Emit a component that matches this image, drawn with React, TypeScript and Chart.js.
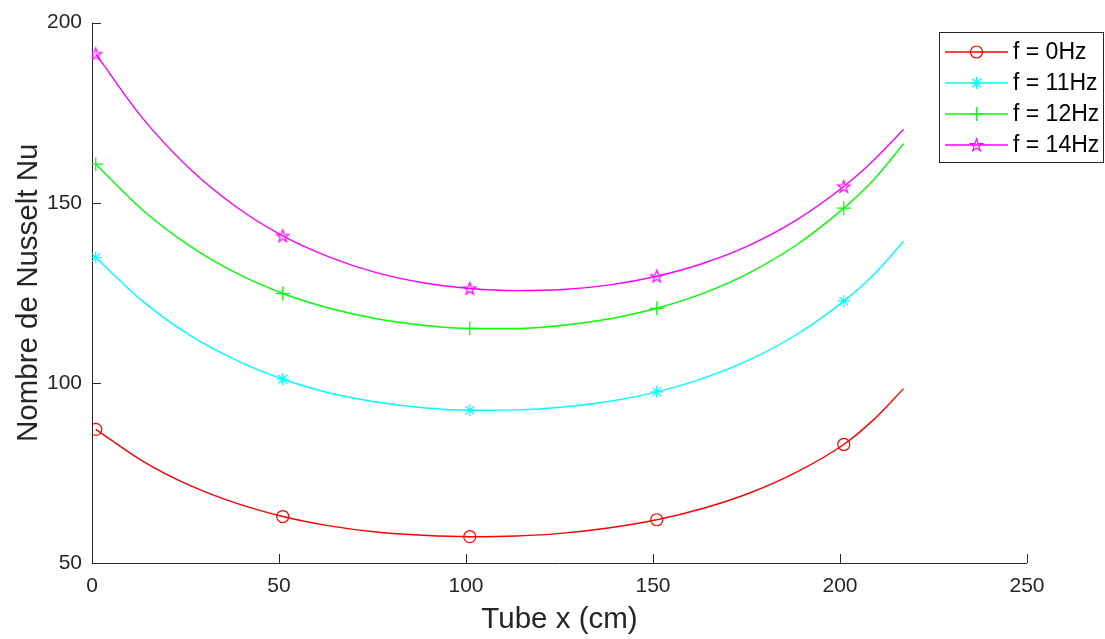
import { useEffect, useRef } from "react";
import { Chart, registerables } from "chart.js";

Chart.register(...registerables);

const curveX = [1, 13.5, 26, 38.5, 51, 63.5, 76, 88.5, 101, 113.5, 126, 138.5, 151, 163.5, 176, 188.5, 201, 209, 217];
// positions where markers are drawn (measurement points)
const markerX = [1, 51, 101, 151, 201];

// Nusselt number along the fitted curves
const nu0Hz = [87.1, 78.3, 71.6, 66.6, 62.9, 60.3, 58.6, 57.7, 57.3, 57.5, 58.3, 59.8, 62.0, 65.2, 69.5, 75.3, 82.9, 89.8, 98.4];
const nu11Hz = [134.8, 122.7, 113.3, 106.3, 101.0, 97.2, 94.7, 93.1, 92.4, 92.5, 93.3, 94.9, 97.5, 101.3, 106.5, 113.5, 122.7, 130.0, 139.3];
const nu12Hz = [160.7, 148.0, 138.1, 130.5, 124.8, 120.7, 117.8, 116.0, 115.1, 115.1, 116.0, 117.8, 120.7, 124.9, 130.7, 138.4, 148.5, 156.4, 166.4];
const nu14Hz = [191.3, 173.5, 159.6, 148.9, 140.8, 134.9, 130.6, 127.8, 126.2, 125.6, 125.9, 127.2, 129.6, 133.2, 138.3, 145.3, 154.5, 161.8, 170.4];

const seriesLabels = ["f = 0Hz", "f = 11Hz", "f = 12Hz", "f = 14Hz"];
const seriesColors = ["#FF0000", "#00FFFF", "#00FF00", "#FF00FF"];
const seriesMarkers = ["circle", "asterisk", "plus", "pentagram"];

const xTicks = [0, 50, 100, 150, 200, 250];
const yTicks = [50, 100, 150, 200];
const xTitle = "Tube x (cm)";
const yTitle = "Nombre de Nusselt Nu";

const FONT = "'Liberation Sans', Arial, Helvetica, sans-serif";
const AXIS_COLOR = "#262626";

function tracePentagram(ctx: CanvasRenderingContext2D, x: number, y: number, r: number) {
  ctx.beginPath();
  for (let i = 0; i < 10; i++) {
    const rr = i % 2 === 0 ? r : r * 0.4;
    const a = -Math.PI / 2 + (i * Math.PI) / 5;
    const px = x + rr * Math.cos(a);
    const py = y + rr * Math.sin(a);
    if (i === 0) ctx.moveTo(px, py);
    else ctx.lineTo(px, py);
  }
  ctx.closePath();
}

function makePentagram(color: string, r: number) {
  const size = Math.ceil(2 * r + 4);
  const c = document.createElement("canvas");
  c.width = size;
  c.height = size;
  const ctx = c.getContext("2d")!;
  tracePentagram(ctx, size / 2, size / 2 + 0.5, r);
  ctx.strokeStyle = color;
  ctx.lineWidth = 1.2;
  ctx.stroke();
  return c;
}

function drawMarker(ctx: CanvasRenderingContext2D, kind: string, x: number, y: number, color: string) {
  ctx.save();
  ctx.strokeStyle = color;
  ctx.lineWidth = 1.2;
  ctx.beginPath();
  if (kind === "circle") {
    ctx.arc(x, y, 6, 0, Math.PI * 2);
    ctx.stroke();
  } else if (kind === "asterisk") {
    const r = 6;
    const d = r * Math.SQRT1_2;
    ctx.moveTo(x - r, y); ctx.lineTo(x + r, y);
    ctx.moveTo(x, y - r); ctx.lineTo(x, y + r);
    ctx.moveTo(x - d, y - d); ctx.lineTo(x + d, y + d);
    ctx.moveTo(x - d, y + d); ctx.lineTo(x + d, y - d);
    ctx.stroke();
  } else if (kind === "plus") {
    const r = 7;
    ctx.moveTo(x - r, y); ctx.lineTo(x + r, y);
    ctx.moveTo(x, y - r); ctx.lineTo(x, y + r);
    ctx.stroke();
  } else {
    tracePentagram(ctx, x, y + 0.5, 6.5);
    ctx.stroke();
  }
  ctx.restore();
}

export default function App() {
  const ref = useRef<HTMLCanvasElement | null>(null);

  useEffect(() => {
    const canvas = ref.current;
    if (!canvas) return;
    const pent = makePentagram(seriesColors[3], 6.5);
    const styleFor = (m: string): any =>
      m === "circle" ? "circle" : m === "asterisk" ? "star" : m === "plus" ? "cross" : pent;
    const radiusFor = (m: string) => (m === "plus" ? 7 : 6);

    const all = [nu0Hz, nu11Hz, nu12Hz, nu14Hz];
    const datasets = all.map((vals, i) => ({
      label: seriesLabels[i],
      data: curveX.map((x, j) => ({ x, y: vals[j] })),
      borderColor: seriesColors[i],
      backgroundColor: "transparent",
      borderWidth: 1.4,
      cubicInterpolationMode: "monotone",
      pointStyle: styleFor(seriesMarkers[i]),
      pointRadius: curveX.map((x) => (markerX.includes(x) ? radiusFor(seriesMarkers[i]) : 0)),
      pointBorderColor: seriesColors[i],
      pointBackgroundColor: "transparent",
      pointBorderWidth: 1.2,
      fill: false,
    }));

    const axesPlugin = {
      id: "matlabAxes",
      beforeDatasetsDraw(chart: any) {
        const { ctx, chartArea } = chart;
        const { left, right, top, bottom } = chartArea;
        const xs = chart.scales.x;
        const ys = chart.scales.y;
        ctx.save();
        ctx.strokeStyle = AXIS_COLOR;
        ctx.lineWidth = 1;
        ctx.beginPath();
        ctx.moveTo(left + 0.5, top);
        ctx.lineTo(left + 0.5, bottom + 0.5);
        ctx.lineTo(right, bottom + 0.5);
        for (const v of xTicks) {
          const px = Math.round(xs.getPixelForValue(v)) + 0.5;
          ctx.moveTo(px, bottom);
          ctx.lineTo(px, bottom - 9);
        }
        for (const v of yTicks) {
          const py = Math.round(ys.getPixelForValue(v)) + 0.5;
          ctx.moveTo(left, py);
          ctx.lineTo(left + 9, py);
        }
        ctx.stroke();
        ctx.restore();
      },
      afterDraw(chart: any) {
        const { ctx } = chart;
        const bx = 939.5, by = 32.5, bw = 164, bh = 130;
        ctx.save();
        ctx.fillStyle = "#FFFFFF";
        ctx.fillRect(bx, by, bw, bh);
        ctx.strokeStyle = AXIS_COLOR;
        ctx.lineWidth = 1;
        ctx.strokeRect(bx, by, bw, bh);
        ctx.font = `23px ${FONT}`;
        ctx.textBaseline = "middle";
        ctx.textAlign = "left";
        for (let i = 0; i < seriesLabels.length; i++) {
          const y = 52 + i * 31;
          ctx.strokeStyle = seriesColors[i];
          ctx.lineWidth = 1.4;
          ctx.beginPath();
          ctx.moveTo(945, y);
          ctx.lineTo(1008, y);
          ctx.stroke();
          drawMarker(ctx, seriesMarkers[i], 976.5, y, seriesColors[i]);
          ctx.fillStyle = "#000000";
          ctx.fillText(seriesLabels[i], 1013, y + 1);
        }
        ctx.restore();
      },
    };

    const chart = new Chart(canvas, {
      type: "line",
      data: { datasets: datasets as any },
      plugins: [axesPlugin],
      options: {
        animation: false,
        responsive: false,
        devicePixelRatio: 1,
        layout: { padding: { left: 0, top: 21, right: 78, bottom: 0 } },
        plugins: { legend: { display: false }, tooltip: { enabled: false } },
        scales: {
          x: {
            type: "linear",
            min: 0,
            max: 250,
            grid: { display: false, drawTicks: false },
            border: { display: false },
            afterBuildTicks: (s: any) => {
              s.ticks = xTicks.map((v) => ({ value: v }));
            },
            afterFit: (s: any) => {
              s.height = 76;
            },
            ticks: {
              color: AXIS_COLOR,
              padding: 11,
              maxRotation: 0,
              font: { family: FONT, size: 21 },
            },
            title: {
              display: true,
              text: xTitle,
              color: AXIS_COLOR,
              padding: { top: 0, bottom: 1 },
              font: { family: FONT, size: 29.5 },
            },
          },
          y: {
            type: "linear",
            min: 50,
            max: 200,
            grid: { display: false, drawTicks: false },
            border: { display: false },
            afterBuildTicks: (s: any) => {
              s.ticks = yTicks.map((v) => ({ value: v }));
            },
            afterFit: (s: any) => {
              s.width = 92;
            },
            ticks: {
              color: AXIS_COLOR,
              padding: 10,
              font: { family: FONT, size: 21 },
            },
            title: {
              display: true,
              text: yTitle,
              color: AXIS_COLOR,
              padding: { top: 11, bottom: 0 },
              font: { family: FONT, size: 29.5 },
            },
          },
        },
      },
    });
    return () => chart.destroy();
  }, []);

  return (
    <div style={{ position: "absolute", left: 0, top: 0, width: 1105, height: 639, background: "#FFFFFF" }}>
      <canvas ref={ref} width={1105} height={639} style={{ display: "block" }} />
    </div>
  );
}
